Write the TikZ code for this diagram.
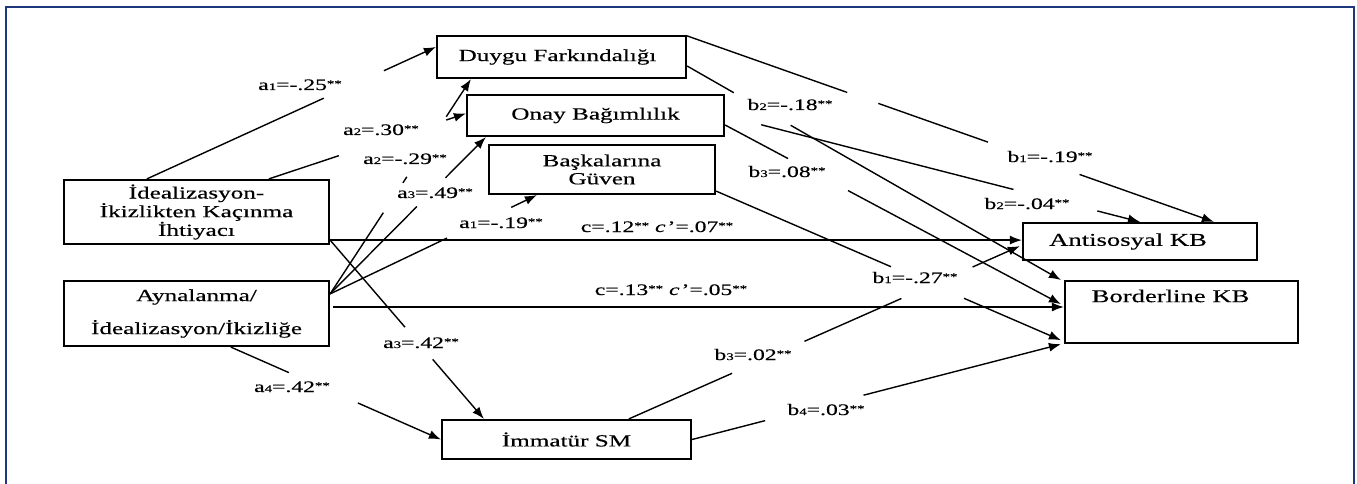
\documentclass[tikz,border=0pt]{standalone}
\usepackage{fontspec}
\setmainfont{Liberation Serif}[FakeStretch=1.48,FakeBold=0.4]
\usetikzlibrary{calc,arrows.meta}
\definecolor{frameblue}{RGB}{30,55,125}
\newcommand\lsub[1]{{\fontsize{10}{10}\selectfont #1}}
\newcommand\sig{\raisebox{3pt}{\fontsize{10}{10}\selectfont **}}
\newcommand\cpr{\textit{c}\kern2pt’}
\newcommand\gapline[4]{%
  \foreach \ta/\tb in {#3}{\draw[conn] ($(#1)!\ta!(#2)$) -- ($(#1)!\tb!(#2)$);}%
  \draw[conn,arr] ($(#1)!#4!(#2)$) -- (#2);}
\begin{document}
\begin{tikzpicture}[x=1pt,y=-1pt,
  box/.style={draw, line width=2.2pt, inner sep=3pt, font=\fontsize{17}{20}\selectfont},
  conn/.style={line width=1.4pt},
  arr/.style={-{Latex[length=12pt,width=9pt]}},
  lab/.style={font=\fontsize{16}{16}\selectfont, anchor=base, inner sep=0pt}]
\useasboundingbox (0,0) rectangle (1357,484);
\fill[white] (0,0) rectangle (1357,484);
\draw[frameblue, line width=2pt] (6,484) -- (6,7) -- (1354,7) -- (1354,484);

% nodes
\node[box, minimum width=249pt, minimum height=42pt] (duygu) at (561.5,57) {\kern-8pt Duygu Farkındalığı};
\node[box, minimum width=257pt, minimum height=41pt] (onay) at (595.5,115.5) {Onay Bağımlılık};
\node[box, minimum width=226pt, minimum height=49pt, align=center, font=\fontsize{17}{18}\selectfont] (bask) at (602,169.5) {Başkalarına\\Güven};
\node[box, minimum width=265pt, minimum height=64pt, align=center, font=\fontsize{17}{16.5}\selectfont] (ideal) at (196.5,212) {İdealizasyon-\\İkizlikten Kaçınma\\İhtiyacı};
\node[box, minimum width=265pt, minimum height=65pt, align=center, font=\fontsize{17}{33}\selectfont] (ayna) at (196.5,313.5) {Aynalanma/\\İdealizasyon/İkizliğe};
\node[box, minimum width=249pt, minimum height=39pt] (imm) at (566.5,439.5) {İmmatür SM};
\node[box, minimum width=234pt, minimum height=37pt, font=\fontsize{18}{20}\selectfont] (anti) at (1140,241.5) {\kern-24pt Antisosyal KB};
\node[box, minimum width=233pt, text height=18pt, text depth=38pt, inner sep=3pt, anchor=north, font=\fontsize{18}{20}\selectfont] (bord) at (1181.5,280) {\kern-22pt Borderline KB};

% connector end points
\coordinate (s1) at ($(ideal.north west)+(84,0)$);
\coordinate (e1) at ($(duygu.west)+(0,-10)$);
\coordinate (s2) at ($(ideal.north west)+(206,0)$);
\coordinate (e2) at ($(onay.west)+(0,-2)$);
\coordinate (s3) at ($(ayna.north east)+(0,14)$);
\coordinate (e3) at ($(duygu.south west)+(35,0)$);
\coordinate (e4) at ($(onay.south west)+(20,0)$);
\coordinate (e5) at ($(bask.south west)+(49,0)$);
\coordinate (s6) at ($(ideal.south east)+(0,-5)$);
\coordinate (e6) at ($(imm.north west)+(43,0)$);
\coordinate (s7) at ($(ayna.south west)+(168,0)$);
\coordinate (s9) at ($(ayna.east)+(3,-6.5)$);
\coordinate (s10) at ($(duygu.north east)+(0,1)$);
\coordinate (e10) at ($(anti.north west)+(192,0)$);
\coordinate (s11) at ($(duygu.east)+(0,9)$);
\coordinate (e11) at ($(bord.north west)+(-3,0)$);
\coordinate (s13) at ($(onay.east)+(0,9.5)$);
\coordinate (e13) at ($(bord.west)+(-3,-8)$);
\coordinate (s14) at ($(bask.south east)+(0,-4)$);
\coordinate (e14) at ($(bord.south west)+(-3,-4)$);
\coordinate (s15) at ($(imm.north west)+(188,0)$);
\coordinate (e15) at ($(anti.south west)+(-2,-15)$);
\coordinate (e16) at ($(bord.south west)+(-3,0)$);

% a paths
\gapline{s1}{e1}{0/0.612}{0.82}
\gapline{s2}{e2}{0/0.355}{0.90}
\gapline{s3}{e3}{0/0.378,0.517/0.545}{0.825}
\gapline{s3}{e4}{0/0.557}{0.74}
\gapline{s3}{e5}{0/0.565}{0.876}
\gapline{s6}{e6}{0/0.487}{0.667}
\gapline{s7}{imm.west}{0/0.276}{0.605}
% c paths
\draw[conn,arr] (s6) -- (s6 -| anti.west);
\draw[conn,arr] (s9) -- (s9 -| bord.west);
% b paths
\gapline{s10}{e10}{0/0.304,0.363/0.571}{0.745}
\gapline{s11}{e11}{0/0.125}{0.277}
\gapline{onay.east}{anti.north}{0.087/0.695}{0.897}
\gapline{s13}{e13}{0/0.1875}{0.366}
\gapline{s14}{e14}{0/0.507}{0.719}
\gapline{s15}{e15}{0/0.264,0.449/0.697}{0.879}
\gapline{imm.east}{e16}{0/0.198}{0.465}

% labels
\node[lab] (la1) at (300,90) {a\lsub{1}=-.25\sig};
\node[lab] (la2) at (381,135) {a\lsub{2}=.30\sig};
\node[lab] (la2b) at (405,164) {a\lsub{2}=-.29\sig};
\node[lab] (la3) at (435,198) {a\lsub{3}=.49\sig};
\node[lab] (la1b) at (501,228) {a\lsub{1}=-.19\sig};
\node[lab] (la3b) at (421,348) {a\lsub{3}=.42\sig};
\node[lab] (la4) at (292,392) {a\lsub{4}=.42\sig};
\node[lab] (lc1) at (657,232) {c=.12\sig{} \cpr=.07\sig};
\node[lab] (lc2) at (671,295) {c=.13\sig{} \cpr=.05\sig};
\node[lab] (lb2) at (790,110) {b\lsub{2}=-.18\sig};
\node[lab] (lb1) at (1050,162) {b\lsub{1}=-.19\sig};
\node[lab] (lb3) at (787,177) {b\lsub{3}=.08\sig};
\node[lab] (lb2b) at (1027,209) {b\lsub{2}=-.04\sig};
\node[lab] (lb1b) at (915,283) {b\lsub{1}=-.27\sig};
\node[lab] (lb3b) at (753,360) {b\lsub{3}=.02\sig};
\node[lab] (lb4) at (826,415) {b\lsub{4}=.03\sig};
\end{tikzpicture}
\end{document}
